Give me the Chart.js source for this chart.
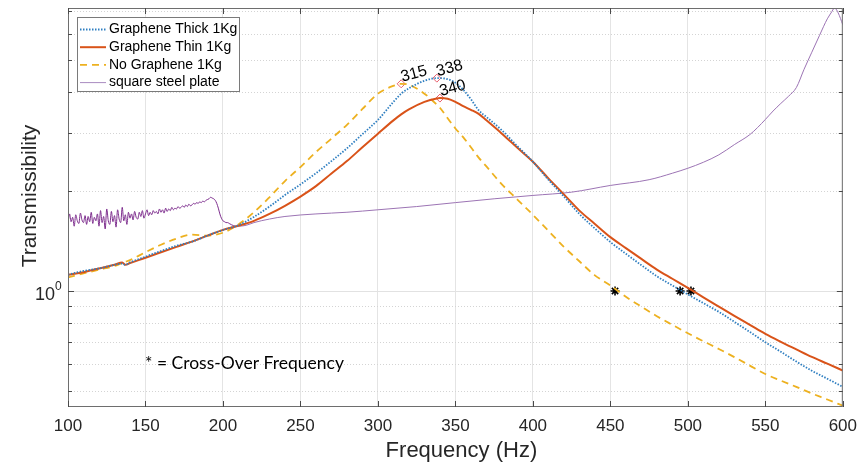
<!DOCTYPE html>
<html>
<head>
<meta charset="utf-8">
<script src="https://cdn.jsdelivr.net/npm/chart.js@4.4.0/dist/chart.umd.min.js"></script>
<style>
  html, body { margin: 0; padding: 0; background: #fff; }
  #wrap { width: 866px; height: 464px; }
</style>
</head>
<body>
<div id="wrap"><canvas id="tChart"></canvas></div>
<script>
// frequency grid shared by the three graphene / no graphene curves (Hz)
const freq = [100, 110, 120, 130, 135, 137, 140, 150, 160, 170, 180, 190, 200, 210, 220, 230, 240, 250, 260, 270,
  280, 290, 300, 310, 315, 320, 330, 338, 340, 345, 350, 355, 360, 365, 370, 380, 390, 400, 410, 420,
  430, 440, 450, 460, 470, 480, 490, 500, 510, 520, 530, 540, 550, 560, 570, 580, 590, 600];

const thick = [1.12, 1.15, 1.17, 1.20, 1.21, 1.20, 1.22, 1.27, 1.32, 1.37, 1.41, 1.47, 1.53, 1.58, 1.675, 1.80, 1.95, 2.10, 2.27, 2.47,
  2.70, 2.98, 3.29, 3.73, 3.95, 4.10, 4.32, 4.40, 4.40, 4.37, 4.26, 4.06, 3.80, 3.52, 3.36, 3.06, 2.74, 2.46, 2.17, 1.93,
  1.71, 1.545, 1.406, 1.296, 1.197, 1.108, 1.039, 0.976, 0.919, 0.865, 0.807, 0.752, 0.700, 0.655, 0.612, 0.574, 0.543, 0.513];

const thin = [1.12, 1.14, 1.17, 1.20, 1.22, 1.20, 1.215, 1.26, 1.31, 1.36, 1.41, 1.47, 1.53, 1.575, 1.63, 1.71, 1.81, 1.93, 2.075, 2.265,
  2.47, 2.72, 2.99, 3.28, 3.42, 3.54, 3.73, 3.82, 3.83, 3.81, 3.73, 3.62, 3.53, 3.43, 3.28, 2.99, 2.71, 2.46, 2.19, 1.96,
  1.75, 1.595, 1.455, 1.348, 1.250, 1.161, 1.089, 1.022, 0.957, 0.897, 0.841, 0.790, 0.742, 0.702, 0.666, 0.632, 0.603, 0.575];

const noGraphene = [1.10, 1.13, 1.16, 1.19, 1.215, 1.225, 1.24, 1.31, 1.38, 1.44, 1.48, 1.47, 1.50, 1.59, 1.73, 1.92, 2.15, 2.37, 2.63, 2.89,
  3.18, 3.55, 3.95, 4.17, 4.23, 4.20, 3.95, 3.66, 3.58, 3.33, 3.10, 2.92, 2.72, 2.53, 2.38, 2.10, 1.89, 1.70, 1.52, 1.36,
  1.23, 1.115, 1.04, 0.960, 0.897, 0.839, 0.790, 0.745, 0.705, 0.668, 0.631, 0.595, 0.561, 0.536, 0.513, 0.490, 0.470, 0.450];

// square steel plate, dense noisy part below ~205 Hz
const steelFreq = [
  100, 101, 102, 103, 104, 105, 106, 107, 108, 109, 110, 111, 112, 113, 114, 115, 116, 117, 118, 119,
  120, 121, 122, 123, 124, 125, 126, 127, 128, 129, 130, 131, 132, 133, 134, 135, 136, 137, 138, 139,
  140, 141, 142, 143, 144, 145, 146, 147, 148, 149, 150, 151, 152, 153, 154, 155, 156, 157, 158, 159,
  160, 161, 162, 163, 164, 165, 166, 167, 168, 169, 170, 171, 172, 173, 174, 175, 176, 177, 178, 179,
  180, 181, 182, 183, 184, 185, 186, 187, 188, 189, 190, 191, 192, 193, 194, 195, 196, 197, 198, 199,
  200, 201, 202, 203, 204, 207, 210, 215, 220, 230, 240, 260, 280, 300, 325, 350, 375, 400, 425, 450,
  475, 490, 500, 510, 520, 530, 540, 545, 550, 555, 560, 565, 570, 575, 580, 585, 590, 593, 594, 595, 597, 600];
const steelVals = [
  1.60, 1.71, 1.62, 1.67, 1.57, 1.70, 1.63, 1.60, 1.72, 1.64, 1.61, 1.69, 1.59, 1.68, 1.62, 1.73, 1.60, 1.67, 1.63, 1.71,
  1.57, 1.75, 1.61, 1.68, 1.54, 1.77, 1.63, 1.59, 1.74, 1.62, 1.69, 1.56, 1.76, 1.65, 1.61, 1.79, 1.63, 1.70, 1.59, 1.73,
  1.66, 1.71, 1.64, 1.74, 1.67, 1.65, 1.73, 1.68, 1.75, 1.66, 1.71, 1.76, 1.69, 1.73, 1.70, 1.75, 1.72, 1.74, 1.71, 1.77,
  1.73, 1.76, 1.72, 1.78, 1.74, 1.77, 1.75, 1.79, 1.76, 1.78, 1.77, 1.80, 1.78, 1.79, 1.81, 1.79, 1.82, 1.80, 1.83, 1.81,
  1.82, 1.84, 1.83, 1.85, 1.84, 1.86, 1.85, 1.87, 1.86, 1.88, 1.89, 1.90, 1.92, 1.91, 1.90, 1.88, 1.84, 1.78, 1.71, 1.66,
  1.63, 1.62, 1.61, 1.61, 1.60, 1.575, 1.57, 1.58, 1.61, 1.65, 1.68, 1.71, 1.73, 1.76, 1.80, 1.85, 1.90, 1.945, 1.99, 2.085,
  2.17, 2.27, 2.35, 2.45, 2.58, 2.77, 2.97, 3.12, 3.30, 3.50, 3.69, 3.88, 4.12, 4.68, 5.27, 5.93, 6.65, 7.00, 7.13, 7.15, 6.93, 6.38];

// labelled resonance peaks and cross-over points
const peakFreq = [315, 338, 340];
const peakVals = [4.23, 4.40, 3.83];
const peakLabels = ['315', '338', '340'];
const crossFreq = [453, 495, 502];
const crossVals = [1.0, 1.0, 1.0];

const yGrid = [0.5, 0.6, 0.7, 0.8, 0.9, 1, 2, 3, 4, 5, 6, 7];

const FONT = '"Liberation Sans", Arial, Helvetica, sans-serif';
const pts = (xs, ys) => xs.map((x, i) => ({ x: x, y: ys[i] }));

const legendItems = [
  { label: 'Graphene Thick 1Kg', color: '#2f7fc1', width: 1.8, dash: [1.5, 1.5] },
  { label: 'Graphene Thin 1Kg', color: '#d95319', width: 2, dash: [] },
  { label: 'No Graphene 1Kg', color: '#edb120', width: 1.8, dash: [7, 5] },
  { label: 'square steel plate', color: '#a98cc0', width: 1, dash: [] }
];

const framePlugin = {
  id: 'frame',
  beforeDatasetsDraw(chart) {
    const { ctx, chartArea: a, scales: { y } } = chart;
    ctx.save();
    ctx.lineWidth = 1;
    yGrid.forEach(v => {
      const py = Math.round(y.getPixelForValue(v)) + 0.5;
      ctx.strokeStyle = v === 1 ? '#e2e2e2' : '#d4d4d4';
      ctx.setLineDash(v === 1 ? [] : [1, 2]);
      ctx.beginPath();
      ctx.moveTo(a.left, py);
      ctx.lineTo(a.right, py);
      ctx.stroke();
    });
    ctx.restore();
  },
  afterDatasetsDraw(chart) {
    const { ctx, chartArea: a, scales: { x, y } } = chart;
    ctx.save();

    // axes box and inward ticks
    ctx.strokeStyle = '#6e6e6e';
    ctx.lineWidth = 1;
    ctx.strokeRect(a.left + 0.5, a.top + 0.5, a.right - a.left - 1, a.bottom - a.top - 1);
    ctx.strokeStyle = '#4a4a4a';
    ctx.beginPath();
    x.ticks.forEach(t => {
      const px = Math.round(x.getPixelForValue(t.value)) + 0.5;
      ctx.moveTo(px, a.bottom); ctx.lineTo(px, a.bottom - 6);
      ctx.moveTo(px, a.top); ctx.lineTo(px, a.top + 6);
    });
    yGrid.forEach(v => {
      const py = Math.round(y.getPixelForValue(v)) + 0.5;
      const len = v === 1 ? 6 : 4;
      ctx.moveTo(a.left, py); ctx.lineTo(a.left + len, py);
      ctx.moveTo(a.right, py); ctx.lineTo(a.right - len, py);
    });
    ctx.stroke();

    // y tick label 10^0
    const y1 = y.getPixelForValue(1);
    ctx.fillStyle = '#262626';
    ctx.textBaseline = 'middle';
    ctx.textAlign = 'right';
    ctx.font = '18px ' + FONT;
    ctx.fillText('10', 55, y1 + 4);
    ctx.textAlign = 'left';
    ctx.font = '12px ' + FONT;
    ctx.fillText('0', 55, y1 - 4);

    // axis titles
    ctx.font = '22px ' + FONT;
    ctx.textAlign = 'center';
    ctx.fillText('Frequency (Hz)', (a.left + a.right) / 2 + 6, 451);
    ctx.save();
    ctx.translate(30, 196);
    ctx.rotate(-Math.PI / 2);
    ctx.font = '21px ' + FONT;
    ctx.fillText('Transmissibility', 0, 0);
    ctx.restore();

    // peak labels
    ctx.fillStyle = '#000';
    ctx.font = '16px ' + FONT;
    ctx.textAlign = 'left';
    ctx.textBaseline = 'alphabetic';
    peakFreq.forEach((f, i) => {
      const px = x.getPixelForValue(f);
      const py = y.getPixelForValue(peakVals[i]);
      ctx.save();
      ctx.translate(px + 1, py - 2);
      ctx.rotate(-0.26);
      ctx.fillText(peakLabels[i], 0, 0);
      ctx.restore();
    });

    // note
    ctx.font = '17.5px Lato, "Open Sans", sans-serif';
    ctx.textBaseline = 'middle';
    ctx.fillText('* = Cross-Over Frequency', 145, 363);

    // legend box
    const lx = 77.5, ly = 17.5, lw = 162, lh = 74;
    ctx.fillStyle = '#fff';
    ctx.fillRect(lx, ly, lw, lh);
    ctx.strokeStyle = '#7a7a7a';
    ctx.strokeRect(lx, ly, lw, lh);
    ctx.font = '14px ' + FONT;
    ctx.fillStyle = '#000';
    legendItems.forEach((it, i) => {
      const ry = 29.5 + i * 17.7;
      ctx.strokeStyle = it.color;
      ctx.lineWidth = it.width;
      ctx.setLineDash(it.dash);
      ctx.beginPath();
      ctx.moveTo(80, ry); ctx.lineTo(106, ry);
      ctx.stroke();
      ctx.setLineDash([]);
      ctx.fillText(it.label, 109, ry);
    });
    ctx.restore();
  }
};

new Chart(document.getElementById('tChart'), {
  type: 'line',
  data: {
    datasets: [
      {
        label: 'Graphene Thick 1Kg', data: pts(freq, thick),
        borderColor: '#2f7fc1', borderWidth: 1.8, borderDash: [1.5, 1.5],
        pointRadius: 0, cubicInterpolationMode: 'monotone', fill: false
      },
      {
        label: 'Graphene Thin 1Kg', data: pts(freq, thin),
        borderColor: '#d95319', borderWidth: 2,
        pointRadius: 0, cubicInterpolationMode: 'monotone', fill: false
      },
      {
        label: 'No Graphene 1Kg', data: pts(freq, noGraphene),
        borderColor: '#edb120', borderWidth: 1.8, borderDash: [7, 5],
        pointRadius: 0, cubicInterpolationMode: 'monotone', fill: false
      },
      {
        label: 'square steel plate', data: pts(steelFreq, steelVals),
        borderColor: '#8a4a9c', borderWidth: 1,
        segment: { borderColor: c => c.p0.parsed.x >= 207 ? '#9c74b4' : '#7e2f8e' },
        pointRadius: 0, cubicInterpolationMode: 'monotone', fill: false
      },
      {
        label: 'peaks', data: pts(peakFreq, peakVals), showLine: false,
        pointStyle: 'rectRot', pointRadius: 4, borderWidth: 1,
        borderColor: '#e8606e', backgroundColor: 'rgba(0,0,0,0)'
      },
      {
        label: 'cross-over', data: pts(crossFreq, crossVals), showLine: false,
        pointStyle: 'star', pointRadius: 4.5, borderWidth: 1.6,
        borderColor: '#000', backgroundColor: '#000'
      }
    ]
  },
  options: {
    responsive: true,
    maintainAspectRatio: false,
    animation: false,
    layout: { padding: { top: 8, right: 19, left: 0, bottom: 0 } },
    plugins: {
      legend: { display: false },
      tooltip: { enabled: false }
    },
    scales: {
      x: {
        type: 'linear', min: 100, max: 600,
        ticks: { stepSize: 50, color: '#262626', padding: 9, font: { family: FONT, size: 17 } },
        grid: { color: '#e4e4e4', drawTicks: false },
        border: { display: false },
        afterFit: scale => { scale.height = 57; }
      },
      y: {
        type: 'logarithmic', min: 0.446, max: 7.17,
        ticks: { display: false },
        grid: { display: false },
        border: { display: false },
        afterBuildTicks: scale => { scale.ticks = yGrid.map(v => ({ value: v })); },
        afterFit: scale => { scale.width = 68; }
      }
    }
  },
  plugins: [framePlugin]
});
</script>
</body>
</html>
